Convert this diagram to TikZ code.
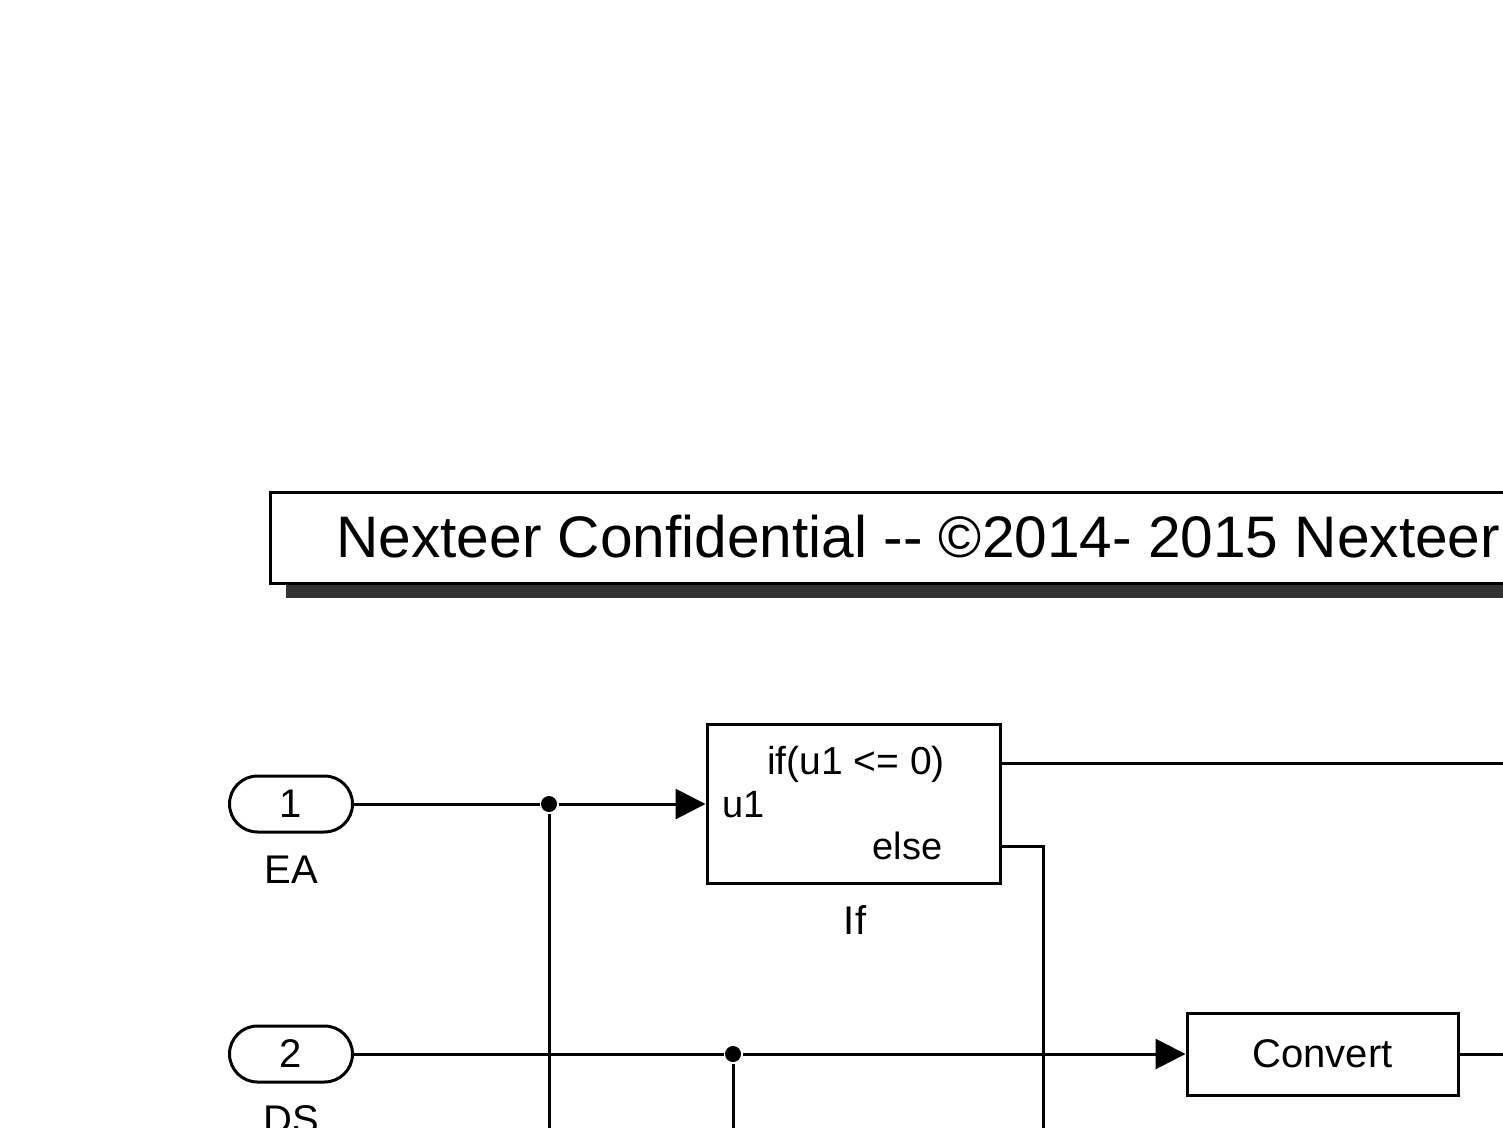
\documentclass[tikz,border=0pt]{standalone}
\usepackage{fontspec}
\setmainfont{Liberation Sans}
\usetikzlibrary{arrows.meta}

\begin{document}
\begin{tikzpicture}[x=0.5pt,y=-0.5pt,line width=1.5pt,
        port/.style={draw,rounded corners=14pt,minimum width=61.5pt,minimum height=28pt,font=\fontsize{20}{24}\selectfont},
        block/.style={draw,inner sep=0pt,font=\fontsize{20}{24}\selectfont},
        lbl/.style={font=\fontsize{20}{24}\selectfont},
        txt/.style={inner sep=0pt,font=\fontsize{19}{23}\selectfont},
        dot/.style={circle,fill,inner sep=0pt,minimum size=8pt},
        sig/.style={-{Triangle[length=15pt,width=15pt]}}]
    % Frame
    \useasboundingbox (0,0) rectangle (1503,1128);
    \clip (0,0) rectangle (1503,1128);
    \fill [white] (0,0) rectangle (1503,1128);

    % Banner
    \fill [black!80] (286,507) rectangle (1620,598);
    \draw [fill=white] (270,492) rectangle (1620,583);
    \node [anchor=west,inner sep=0pt,font=\fontsize{29.3}{34}\selectfont] (banner) at (335,537) {Nexteer Confidential -{}- \textcopyright2014- 2015 Nexteer};

    % Inports
    \node [port] (EA) at (291,804) {1};
    \node [lbl] (EAname) at (291,870) {EA};
    \node [port] (DS) at (291,1054) {2};
    \node [lbl] (DSname) at (291,1120) {DS};

    % If block
    \node [block,minimum width=146.5pt,minimum height=79.5pt] (If) at (853.5,804) {};
    \node [txt,font=\fontsize{19.5}{23}\selectfont] (cond) at (856,764) {if(u1 <= 0)};
    \node [txt,anchor=west] (u1) at (721,805) {u1};
    \node [txt,anchor=east] (else) at (944,846) {else};
    \node [lbl] (Ifname) at (855,920) {If};

    % Convert block
    \node [block,minimum width=135.5pt,minimum height=41pt] (Convert) at (1322.5,1054) {Convert};

    % Junctions
    \node [dot] (j1) at (549,804) {};
    \node [dot] (j2) at (733,1054) {};

    % Free ends
    \coordinate (ifout) at (1000,763);
    \coordinate (ifend) at (1520,763);
    \coordinate (elseout) at (1000,846);
    \coordinate (elsebend) at (1043,846);
    \coordinate (elseend) at (1043,1140);
    \coordinate (j1end) at (549,1140);
    \coordinate (j2end) at (733,1140);
    \coordinate (convend) at (1520,1054);

    % Signals
    \draw (EA) -- (j1);
    \draw [sig] (j1) -- (If.west);
    \draw (j1) -- (j1end);
    \draw (DS) -- (j2);
    \draw [sig] (j2) -- (Convert.west);
    \draw (j2) -- (j2end);
    \draw (ifout) -- (ifend);
    \draw (elseout) -- (elsebend) -- (elseend);
    \draw (Convert) -- (convend);
\end{tikzpicture}
\end{document}
